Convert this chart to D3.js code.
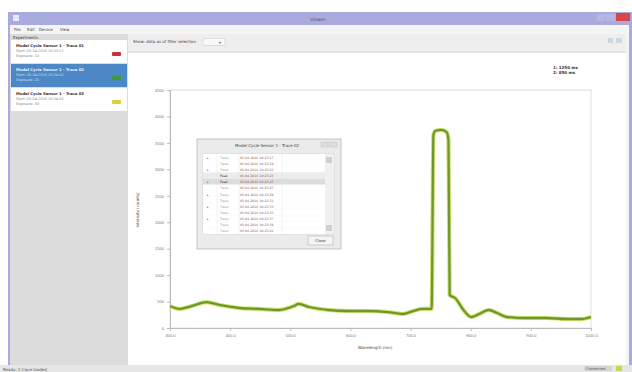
<!DOCTYPE html>
<html>
<head>
<meta charset="utf-8">
<script src="https://cdn.jsdelivr.net/npm/d3@7"></script>
<style>
  body { margin: 0; background: #fff; }
  svg { display: block; font-family: "DejaVu Sans", sans-serif; }
</style>
</head>
<body>
<div id="chart-container"></div>
<script>
// trace data
const wavelength = [300, 316, 336, 361, 382, 415, 448, 481, 506, 514, 531, 564, 596, 629, 662, 687, 704, 720, 735,
                    738, 741, 751, 760, 763, 765, 774, 788, 801, 814, 830, 844, 860, 893, 926, 959, 984, 1000];
const counts = [415, 360, 415, 490, 435, 378, 360, 340, 415, 455, 397, 340, 321, 321, 302, 265, 321, 360, 360,
                3650, 3725, 3745, 3705, 3555, 624, 567, 340, 208, 265, 340, 284, 208, 189, 189, 170, 170, 208];
const xTicks = [300, 400, 500, 600, 700, 800, 900, 1000];
const yTicks = [0, 500, 1000, 1500, 2000, 2500, 3000, 3500, 4000, 4500];

const experiments = ["Model Cycle Sensor 1 - Trace 01", "Model Cycle Sensor 1 - Trace 02", "Model Cycle Sensor 1 - Trace 03"];
const expInfo = ["Start: 05.04.2016 10:23:17", "Start: 05.04.2016 10:24:02", "Start: 05.04.2016 10:24:51"];
const expColors = ["#c8323a", "#3f9a3c", "#d8d23a"];
const menuItems = ["File", "Edit", "Device", "View"];
const legendLabels = ["1: 1250 ms", "2: 850 ms"];
const tableNames = ["Trace", "Trace", "Trace", "Peak", "Peak", "Trace", "Trace", "Trace", "Trace", "Trace", "Trace", "Trace", "Trace"];
const tableTimes = ["05.04.2016 10:23:17", "05.04.2016 10:23:19", "05.04.2016 10:23:21", "05.04.2016 10:23:23",
                    "05.04.2016 10:23:25", "05.04.2016 10:23:27", "05.04.2016 10:23:29", "05.04.2016 10:23:31",
                    "05.04.2016 10:23:33", "05.04.2016 10:23:35", "05.04.2016 10:23:37", "05.04.2016 10:23:39",
                    "05.04.2016 10:23:41"];
const tableMarks = [true, false, true, false, true, false, true, false, true, false, true, false, false];

const svg = d3.select("#chart-container").append("svg")
    .attr("width", 632).attr("height", 372);

// window frame
svg.append("rect").attr("x", 8).attr("y", 12).attr("width", 624).attr("height", 360).attr("fill", "#a9abde");
svg.append("rect").attr("x", 10).attr("y", 25).attr("width", 619).attr("height", 340).attr("fill", "#f4f4f4");
svg.append("rect").attr("x", 13).attr("y", 15).attr("width", 6).attr("height", 6).attr("fill", "#e8e8f8");
svg.append("text").attr("x", 318).attr("y", 21).attr("text-anchor", "middle")
    .attr("font-size", 4.5).attr("fill", "#555").text("Viewer");
svg.append("rect").attr("x", 597).attr("y", 14).attr("width", 8).attr("height", 7).attr("fill", "#b4b6e4");
svg.append("rect").attr("x", 606).attr("y", 14).attr("width", 9).attr("height", 7).attr("fill", "#b4b6e4");
svg.append("rect").attr("x", 616).attr("y", 13).attr("width", 14).attr("height", 8).attr("fill", "#d8464a");

// menu
svg.selectAll(".menu").data(menuItems).join("text")
    .attr("x", (d, i) => [14, 27, 39, 60][i]).attr("y", 31)
    .attr("font-size", 4).attr("fill", "#444").text(d => d);

// left panel
svg.append("rect").attr("x", 10).attr("y", 34).attr("width", 118).attr("height", 331).attr("fill", "#dcdcdc");
svg.append("text").attr("x", 13).attr("y", 38.5).attr("font-size", 4).attr("fill", "#333").text("Experiments");
const items = svg.selectAll(".item").data(experiments).join("g")
    .attr("transform", (d, i) => `translate(11,${40 + i * 24})`);
items.append("rect").attr("width", 116).attr("height", 23)
    .attr("fill", (d, i) => i === 1 ? "#4d88c6" : "#ffffff");
items.append("text").attr("x", 5).attr("y", 7).attr("font-size", 3.8).attr("font-weight", "bold")
    .attr("fill", (d, i) => i === 1 ? "#e8f0fa" : "#333").text(d => d);
items.append("text").attr("x", 5).attr("y", 12).attr("font-size", 3.5)
    .attr("fill", (d, i) => i === 1 ? "#d0def0" : "#888").text((d, i) => expInfo[i]);
items.append("text").attr("x", 5).attr("y", 17).attr("font-size", 3.5)
    .attr("fill", (d, i) => i === 1 ? "#d0def0" : "#888").text((d, i) => "Exposure: " + (i + 1) * 10);
items.append("rect").attr("x", 101).attr("y", 12).attr("width", 9).attr("height", 4).attr("rx", 1)
    .attr("fill", (d, i) => expColors[i]);

// toolbar
svg.append("rect").attr("x", 128).attr("y", 34).attr("width", 498).attr("height", 18).attr("fill", "#eeeeee");
svg.append("line").attr("x1", 128).attr("x2", 626).attr("y1", 52).attr("y2", 52).attr("stroke", "#d8d8d8");
svg.append("text").attr("x", 133).attr("y", 43).attr("font-size", 4).attr("fill", "#444")
    .text("Show: data as of filter selection");
svg.append("rect").attr("x", 203).attr("y", 38.5).attr("width", 22).attr("height", 7)
    .attr("fill", "#f8f8f8").attr("stroke", "#c8c8c8").attr("stroke-width", 0.5);
svg.append("text").attr("x", 219).attr("y", 43.5).attr("font-size", 4).attr("fill", "#555").text("▾");
svg.append("rect").attr("x", 608).attr("y", 38).attr("width", 5).attr("height", 5).attr("fill", "#cfd6e0");
svg.append("rect").attr("x", 616).attr("y", 38).attr("width", 6).attr("height", 5).attr("fill", "#cfd6e0");

// chart canvas
svg.append("rect").attr("x", 128).attr("y", 53).attr("width", 498).attr("height", 312).attr("fill", "#ffffff");

// status bar
svg.append("rect").attr("x", 0).attr("y", 365).attr("width", 632).attr("height", 7).attr("fill", "#e6e6e6");
svg.append("text").attr("x", 3).attr("y", 370.5).attr("font-size", 4).attr("fill", "#555").text("Ready: 1 trace loaded");
svg.append("rect").attr("x", 584).attr("y", 366).attr("width", 28).attr("height", 5).attr("fill", "#d4d4d4");
svg.append("text").attr("x", 586).attr("y", 370.3).attr("font-size", 3.6).attr("fill", "#555").text("Connected");
svg.append("rect").attr("x", 616).attr("y", 366).attr("width", 6).attr("height", 5).attr("fill", "#c8d84a");

// plot
const margin = { top: 90, left: 170 };
const width = 421, height = 238;
const x = d3.scaleLinear().domain([300, 1000]).range([0, width]);
const y = d3.scaleLinear().domain([0, 4500]).range([height, 0]);
const g = svg.append("g").attr("transform", `translate(${margin.left},${margin.top})`);

g.append("rect").attr("width", width).attr("height", height)
    .attr("fill", "none").attr("stroke", "#d6d6d6").attr("stroke-width", 0.8);

const xAxis = g.append("g").attr("transform", `translate(0,${height})`)
    .call(d3.axisBottom(x).tickValues(xTicks).tickSize(3).tickFormat(d3.format(".1f")));
const yAxis = g.append("g")
    .call(d3.axisLeft(y).tickValues(yTicks).tickSize(3).tickFormat(d => d));
[xAxis, yAxis].forEach(a => {
  a.select(".domain").attr("stroke", "#bbb");
  a.selectAll(".tick line").attr("stroke", "#bbb");
  a.selectAll(".tick text").attr("font-size", 4).attr("fill", "#777");
});

svg.append("text").attr("transform", "translate(139,210) rotate(-90)")
    .attr("text-anchor", "middle").attr("font-size", 4).attr("fill", "#555").text("Intensity (counts)");
svg.append("text").attr("x", 375).attr("y", 349).attr("text-anchor", "middle")
    .attr("font-size", 4).attr("fill", "#444").text("Wavelength (nm)");

// legend
svg.selectAll(".legend").data(legendLabels).join("text")
    .attr("x", 553).attr("y", (d, i) => 69 + i * 4.5)
    .attr("font-size", 4).attr("font-weight", "bold").attr("fill", "#333").text(d => d);

const pts = wavelength.map((w, i) => [w, counts[i]]);
const line = d3.line().x(d => x(d[0])).y(d => y(d[1])).curve(d3.curveMonotoneX);
g.append("path").datum(pts).attr("fill", "none").attr("stroke", "#d4e070")
    .attr("stroke-width", 4.2).attr("stroke-linejoin", "round").attr("d", line);
g.append("path").datum(pts).attr("fill", "none").attr("stroke", "#6c9a2a")
    .attr("stroke-width", 2.3).attr("stroke-linejoin", "round").attr("d", line);

// trace table dialog
const dlg = svg.append("g").attr("transform", "translate(197,139)");
dlg.append("rect").attr("width", 144).attr("height", 110).attr("fill", "#ebebeb")
    .attr("stroke", "#b8b8b8").attr("stroke-width", 0.8);
dlg.append("text").attr("x", 70).attr("y", 8).attr("text-anchor", "middle")
    .attr("font-size", 4).attr("fill", "#444").text("Model Cycle Sensor 1 - Trace 02");
dlg.append("rect").attr("x", 124).attr("y", 3).attr("width", 7).attr("height", 5).attr("fill", "#dedede").attr("stroke", "#bbb").attr("stroke-width", 0.4);
dlg.append("rect").attr("x", 132).attr("y", 3).attr("width", 8).attr("height", 5).attr("fill", "#dedede").attr("stroke", "#bbb").attr("stroke-width", 0.4);
dlg.append("rect").attr("x", 6).attr("y", 15).attr("width", 131).attr("height", 80)
    .attr("fill", "#ffffff").attr("stroke", "#c4c4c4").attr("stroke-width", 0.5);
const rowH = 80 / tableNames.length;
const rows = dlg.selectAll(".row").data(tableNames).join("g")
    .attr("transform", (d, i) => `translate(6,${15 + i * rowH})`);
rows.append("rect").attr("width", 122).attr("height", rowH)
    .attr("fill", (d, i) => i === 4 ? "#dcdcdc" : i === 3 ? "#ececec" : "#fff");
rows.append("line").attr("x1", 0).attr("x2", 122).attr("y1", rowH).attr("y2", rowH)
    .attr("stroke", "#efefef").attr("stroke-width", 0.4);
rows.append("text").attr("x", 4).attr("y", rowH - 1.5).attr("font-size", 3.2).attr("fill", "#666")
    .text((d, i) => tableMarks[i] ? "▸" : "");
rows.append("text").attr("x", 17).attr("y", rowH - 1.5).attr("font-size", 3.2)
    .attr("fill", (d, i) => i === 3 || i === 4 ? "#333" : "#999").text(d => d);
rows.append("text").attr("x", 37).attr("y", rowH - 1.5).attr("font-size", 3.2).attr("fill", "#8a5a5a")
    .text((d, i) => tableTimes[i]);
[20, 42, 85].forEach(cx => dlg.append("line").attr("x1", cx).attr("x2", cx).attr("y1", 15).attr("y2", 95)
    .attr("stroke", "#e0e0e0").attr("stroke-width", 0.4));
dlg.append("rect").attr("x", 128).attr("y", 16).attr("width", 8).attr("height", 78).attr("fill", "#f0f0f0");
dlg.append("rect").attr("x", 129).attr("y", 18).attr("width", 6).attr("height", 6).attr("fill", "#cfcfcf");
dlg.append("rect").attr("x", 129).attr("y", 86).attr("width", 6).attr("height", 6).attr("fill", "#cfcfcf");
dlg.append("rect").attr("x", 111).attr("y", 97).attr("width", 25).attr("height", 9)
    .attr("fill", "#f4f4f4").attr("stroke", "#a8a8a8").attr("stroke-width", 0.5);
dlg.append("text").attr("x", 123.5).attr("y", 103).attr("text-anchor", "middle")
    .attr("font-size", 3.8).attr("fill", "#333").text("Close");
</script>
</body>
</html>
